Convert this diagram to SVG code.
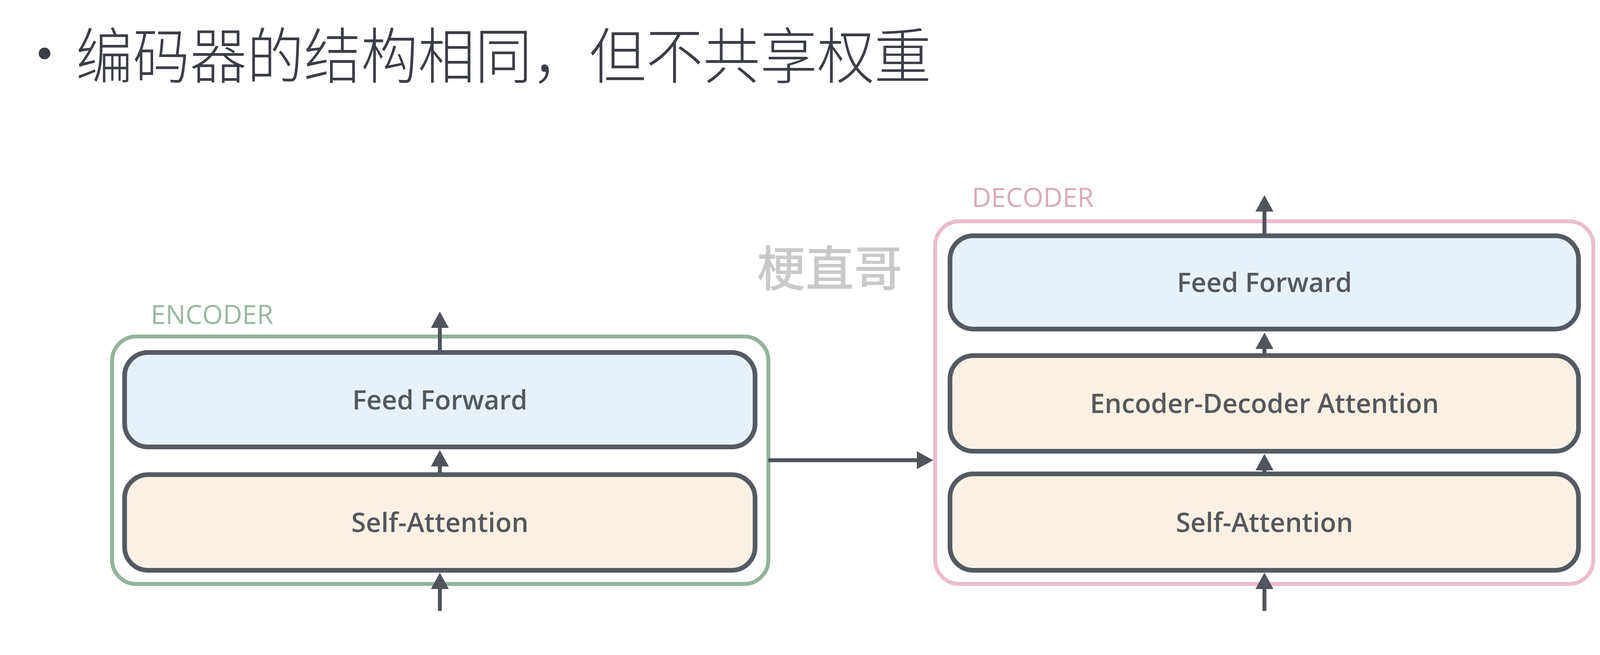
<svg xmlns="http://www.w3.org/2000/svg" width="4168" height="1678" viewBox="0 0 4168 1678">
<defs>
<style>
.title{font-family:"Noto Sans CJK SC","Noto Sans",sans-serif;font-size:146px;font-weight:300;fill:#3b3e46}
.wm{font-family:"Noto Sans CJK SC","Noto Sans",sans-serif;font-size:124px;font-weight:500;fill:#c9c9c9}
.lbl{font-family:"Open Sans","Noto Sans",sans-serif;font-size:68px;font-weight:400}
.enc{fill:#9ab7a2}
.dec{fill:#d9a9bc}
.outerE{fill:none;stroke:#93b39c;stroke-width:10}
.outerD{fill:none;stroke:#ebbccf;stroke-width:10}
.box{stroke:#555a62;stroke-width:12}
.ff{fill:#e6f1fb}
.sa{fill:#fbf1e3}
.txt{font-family:"Open Sans","Noto Sans",sans-serif;font-size:68px;font-weight:600;fill:#55575d;text-anchor:middle}
.conn{stroke:#50545b;stroke-width:10;fill:none}
</style>
<marker id="ah" markerUnits="userSpaceOnUse" markerWidth="42" markerHeight="46" viewBox="0 0 42 46" refX="0" refY="23" orient="auto">
<path d="M0,0 L42,23 L0,46 z" fill="#50545b"/>
</marker>
</defs>
<rect width="4168" height="1678" fill="#ffffff"/>

<g id="title">
<circle cx="114" cy="137" r="15" fill="#3b3e46"/>
<text class="title" transform="translate(194,200) scale(1,1.06)" x="0" y="0">编码器的结构相同，但不共享权重</text>
</g>

<g id="watermark">
<text class="wm" x="2124" y="733" text-anchor="middle">梗直哥</text>
</g>

<g id="encoder">
<text class="lbl enc" x="386" y="830">ENCODER</text>
<rect class="outerE" x="287" y="862" width="1680" height="634" rx="62" ry="62"/>
</g>
<g id="enc-ff">
<rect class="box ff" x="319" y="903" width="1614" height="242" rx="60" ry="60"/>
<text class="txt" x="1126" y="1049">Feed Forward</text>
</g>
<g id="enc-sa">
<rect class="box sa" x="319" y="1216" width="1614" height="245" rx="60" ry="60"/>
<text class="txt" x="1126" y="1363">Self-Attention</text>
</g>

<g id="decoder">
<text class="lbl dec" x="2488" y="530">DECODER</text>
<rect class="outerD" x="2394" y="567" width="1685" height="929" rx="62" ry="62"/>
</g>
<g id="dec-ff">
<rect class="box ff" x="2432" y="604" width="1609" height="239" rx="60" ry="60"/>
<text class="txt" x="3237" y="748">Feed Forward</text>
</g>
<g id="dec-ed">
<rect class="box sa" x="2432" y="911" width="1609" height="245" rx="60" ry="60"/>
<text class="txt" x="3237" y="1058">Encoder-Decoder Attention</text>
</g>
<g id="dec-sa">
<rect class="box sa" x="2432" y="1214" width="1609" height="247" rx="60" ry="60"/>
<text class="txt" x="3237" y="1363">Self-Attention</text>
</g>

<g id="connectors">
<line class="conn" x1="1126" y1="897" x2="1126" y2="840" marker-end="url(#ah)"/>
<line class="conn" x1="1126" y1="1210" x2="1126" y2="1195" marker-end="url(#ah)"/>
<line class="conn" x1="1126" y1="1565" x2="1126" y2="1509" marker-end="url(#ah)"/>
<line class="conn" x1="1967" y1="1179" x2="2347" y2="1179" marker-end="url(#ah)"/>
<line class="conn" x1="3237" y1="598" x2="3237" y2="542" marker-end="url(#ah)"/>
<line class="conn" x1="3237" y1="905" x2="3237" y2="894" marker-end="url(#ah)"/>
<line class="conn" x1="3237" y1="1208" x2="3237" y2="1205" marker-end="url(#ah)"/>
<line class="conn" x1="3237" y1="1565" x2="3237" y2="1509" marker-end="url(#ah)"/>
</g>
</svg>
